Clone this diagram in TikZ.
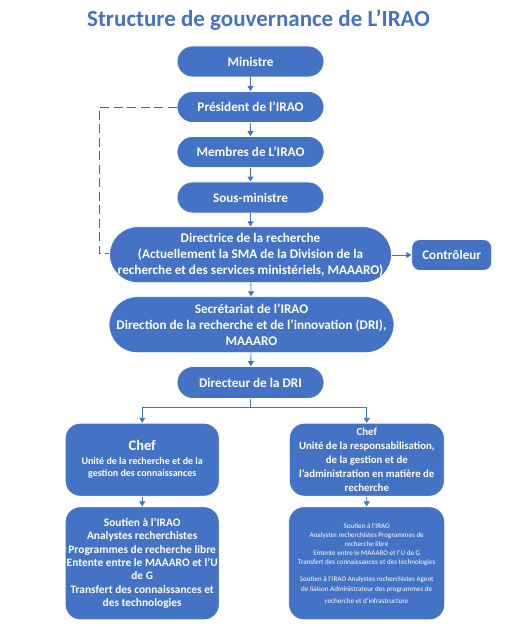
\documentclass[tikz,border=0pt]{standalone}
\usepackage{fontspec}
\setmainfont{Carlito}
\usetikzlibrary{arrows.meta}
\definecolor{boxblue}{HTML}{4472C4}
\definecolor{linkblue}{HTML}{2E6DB4}
\begin{document}
\begin{tikzpicture}[x=1pt,y=1pt,
  pill/.style={fill=boxblue,draw=white,line width=0.8pt,text=white,font=\bfseries\fontsize{13.2}{16.2}\selectfont,align=center,inner sep=0pt},
  card/.style={fill=boxblue,draw=white,line width=0.8pt,text=white,align=center,inner sep=0pt,rounded corners=15pt},
  link/.style={draw=boxblue,line width=0.9pt,-{Triangle[width=6pt,length=5pt]}},
  plain/.style={draw=boxblue,line width=0.9pt}
]
\useasboundingbox (0,0) rectangle (516,-628);
\node[text=boxblue,font=\bfseries\fontsize{23}{26}\selectfont] (title) at (258.5,-20) {Structure de gouvernance de L’IRAO};

\node[pill,minimum width=147,minimum height=31,rounded corners=15.5pt] (min) at (250.5,-61.5) {Ministre};
\node[pill,minimum width=147,minimum height=31,rounded corners=15.5pt] (pres) at (250.5,-107) {Président de l’IRAO};
\node[pill,minimum width=147,minimum height=31,rounded corners=15.5pt] (memb) at (250.5,-152) {Membres de L’IRAO};
\node[pill,minimum width=147,minimum height=31,rounded corners=15.5pt] (sous) at (250.5,-197.5) {Sous-ministre};
\node[pill,minimum width=282,minimum height=56,rounded corners=28pt] (dir) at (250.5,-254.7) {Directrice de la recherche\\(Actuellement la SMA de la Division de la\\recherche et des services ministériels, MAAARO)};
\node[pill,minimum width=80,minimum height=31,rounded corners=8pt] (ctrl) at (451.7,-255) {Contrôleur};
\node[pill,minimum width=285,minimum height=56,rounded corners=28pt] (sec) at (251.5,-324.7) {Secrétariat de l’IRAO\\Direction de la recherche et de l’innovation (DRI),\\MAAARO};
\node[pill,minimum width=147,minimum height=32,rounded corners=16pt] (dri) at (250.5,-382.5) {Directeur de la DRI};

\node[card,minimum width=154,minimum height=73,font=\bfseries] (chefl) at (142.2,-459.7) {\fontsize{14.5}{15}\selectfont Chef\\[2pt]\fontsize{10}{11}\selectfont Unité de la recherche et de la\\gestion des connaissances};
\node[card,minimum width=155,minimum height=73,font=\bfseries\fontsize{10.8}{13.8}\selectfont] (chefr) at (366.8,-459.7) {Chef\\Unité de la responsabilisation,\\de la gestion et de\\l’administration en matière de\\recherche};

\node[card,minimum width=154,minimum height=113,font=\bfseries\fontsize{11.4}{13.4}\selectfont] (botl) at (142.2,-563.3) {Soutien à l’IRAO\\Analystes recherchistes\\Programmes de recherche libre\\Entente entre le MAAARO et l’U\\de G\\Transfert des connaissances et\\des technologies};
\node[card,minimum width=156,minimum height=113,font=\fontsize{7.1}{9.1}\selectfont] (botr) at (366.7,-563.3) {Soutien à l’IRAO\\Analystes recherchistes Programmes de\\recherche libre\\Entente entre le MAAARO et l’U de G\\Transfert des connaissances et des technologies\\[8pt]Soutien à l’IRAO Analystes recherchistes Agent\\de liaison Administrateur des programmes de\\[3pt]recherche et d’infrastructure};

\draw[link] (min) -- (pres);
\draw[link] (pres) -- (memb);
\draw[link] (memb) -- (sous);
\draw[link] (sous) -- (dir);
\draw[link] (dir) -- (sec);
\draw[link] (sec) -- (dri);
\draw[link] (dir.east |- ctrl.west) -- (ctrl.west);
\coordinate (fork) at (250.5,-407.7);
\draw[plain] (dri.south) -- (fork);
\draw[link] (fork) -| (chefl.north);
\draw[link] (fork) -| (chefr.north);
\draw[link] (chefl) -- (botl);
\draw[link] (chefr) -- (botr);
\coordinate (dl1) at (99.3,-107);
\coordinate (dl2) at (99.3,-253.3);
\draw[draw=linkblue,line width=0.9pt,dash pattern=on 9pt off 4.5pt] (pres.west) -- (dl1) -- (dl2) -- (dl2 -| dir.west);
\end{tikzpicture}
\end{document}
